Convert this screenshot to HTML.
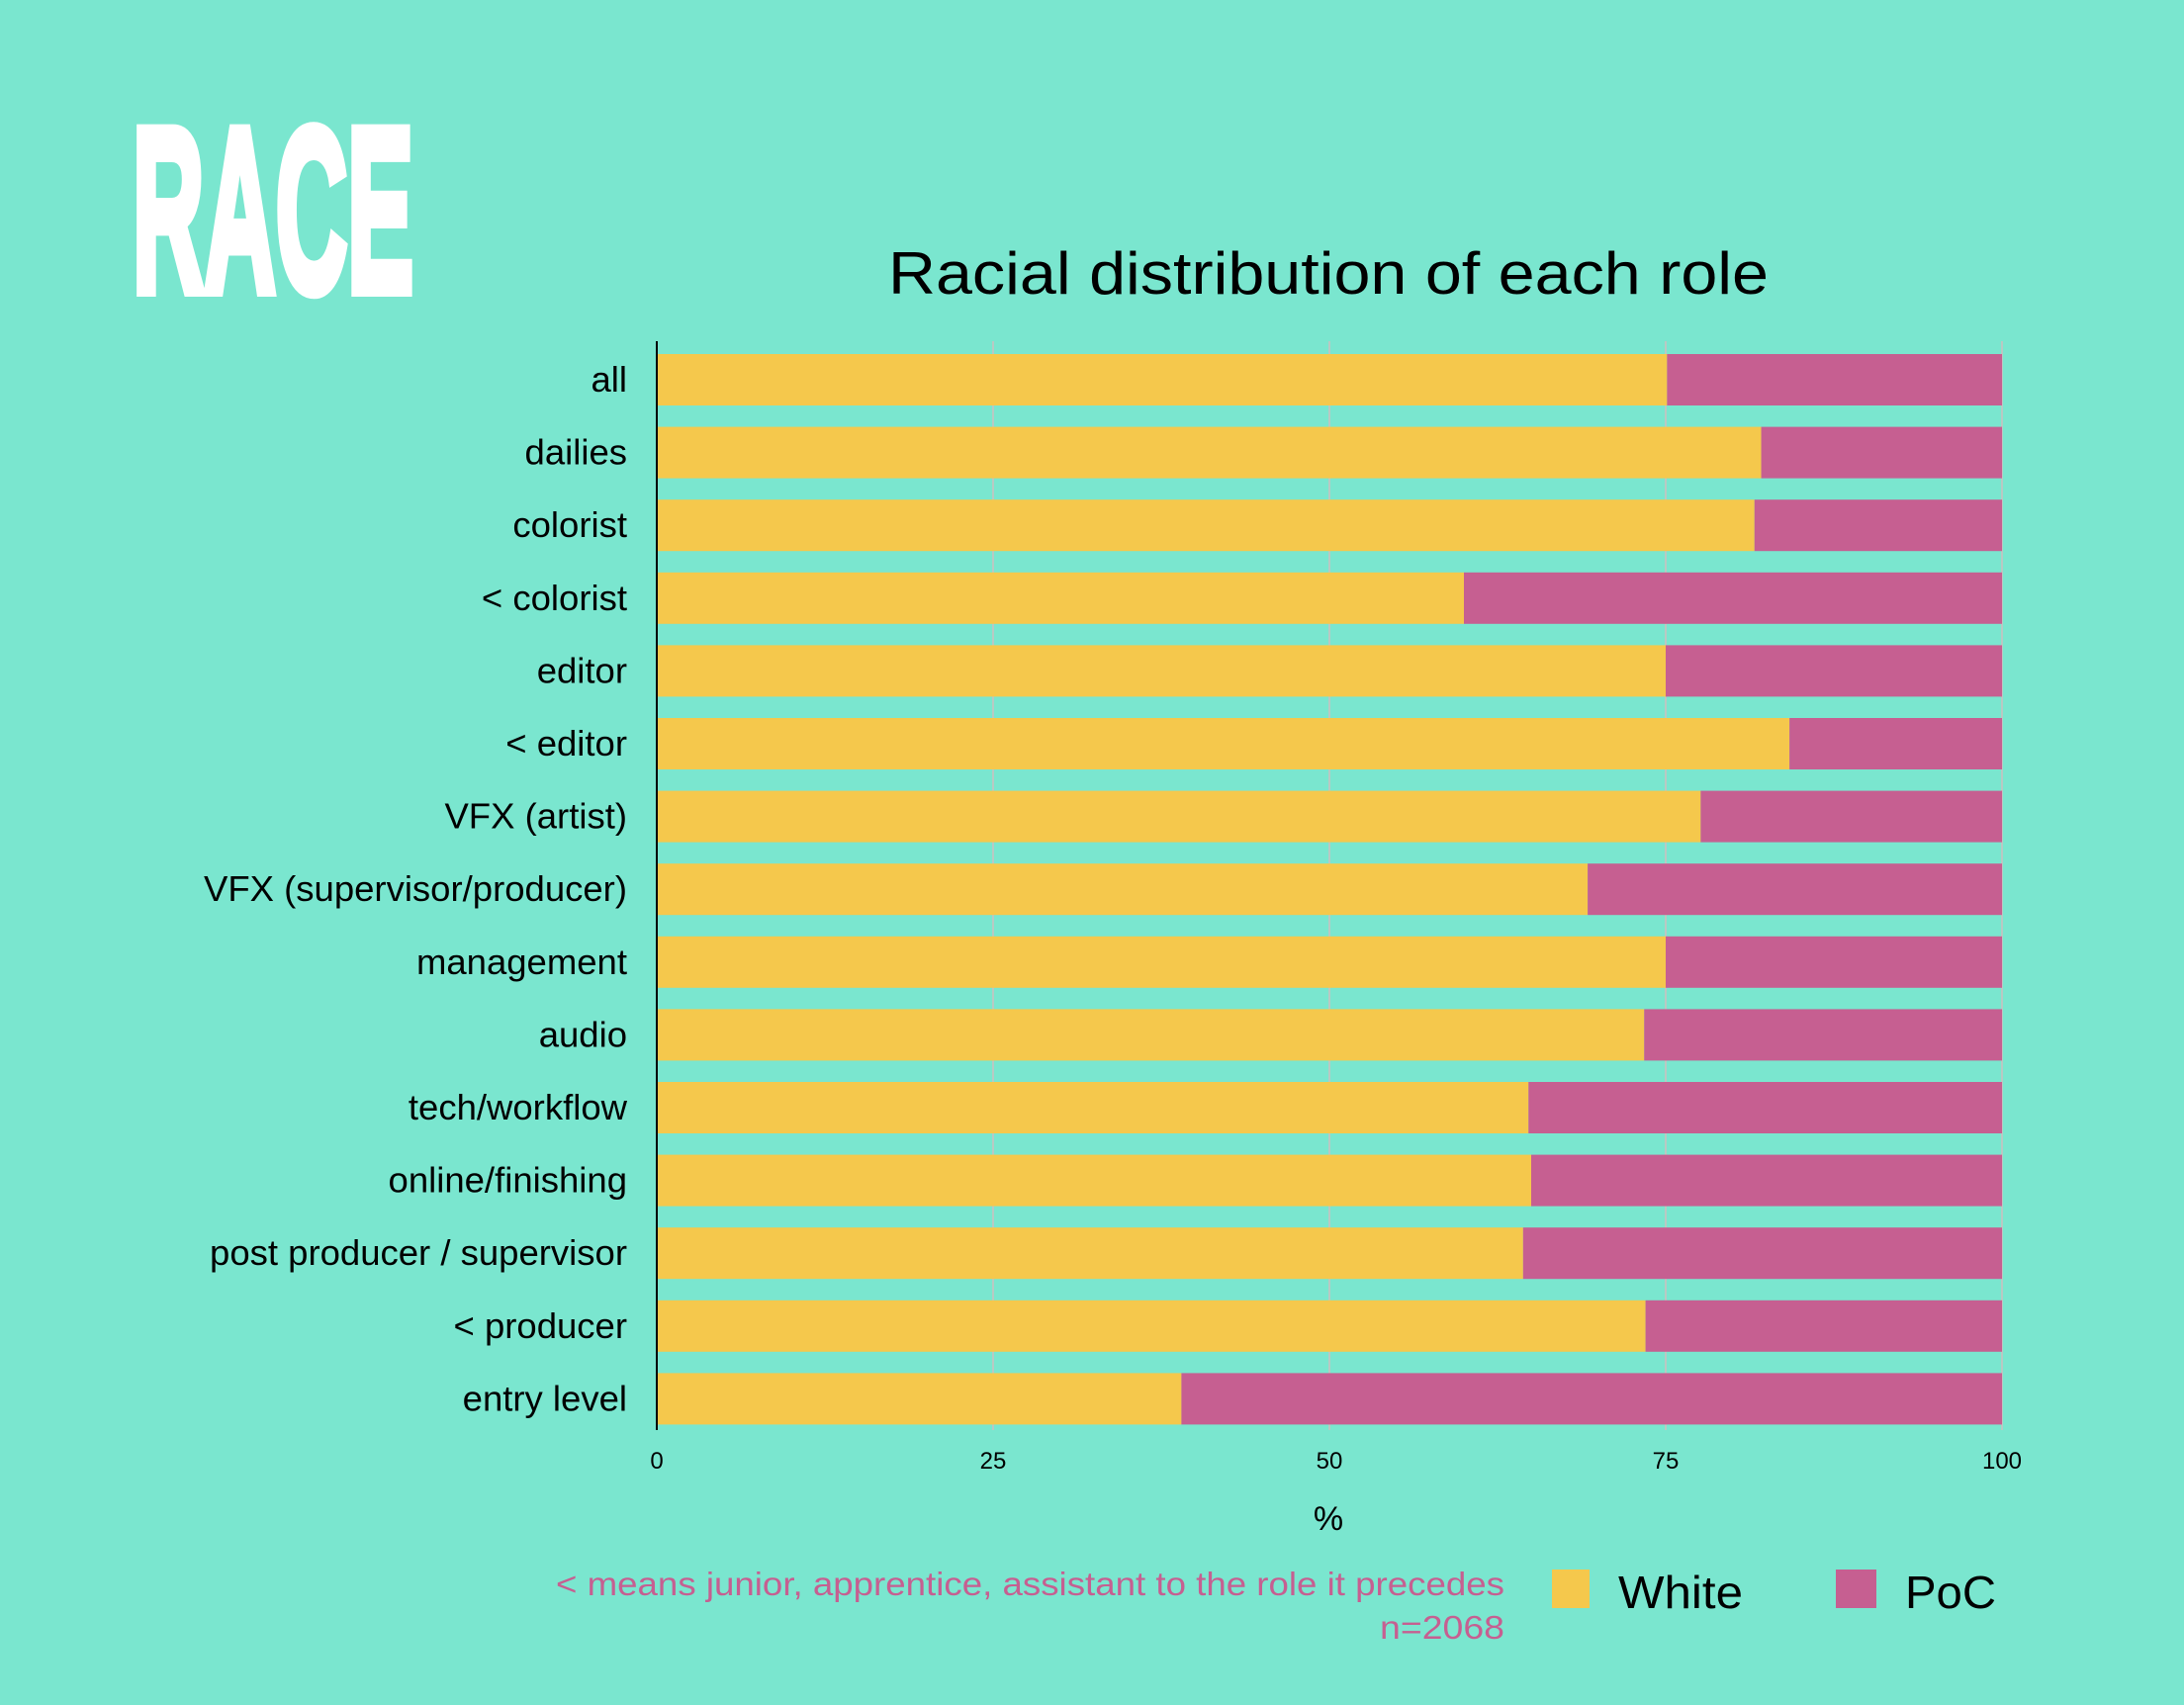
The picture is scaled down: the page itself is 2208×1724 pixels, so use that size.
<!DOCTYPE html>
<html><head><meta charset="utf-8"><style>
html,body{margin:0;padding:0;background:#7ae6cf;}
svg{display:block;font-family:"Liberation Sans",sans-serif;}
</style></head><body>
<svg id="chart" width="2208" height="1724" viewBox="0 0 2208 1724">
<rect width="2208" height="1724" fill="#7ae6cf"/>
<text x="134" y="294" font-size="236" font-weight="bold" fill="#ffffff" stroke="#ffffff" stroke-width="12" stroke-linejoin="miter" textLength="284" lengthAdjust="spacingAndGlyphs">RACE</text>
<text x="1343" y="297" font-size="60" text-anchor="middle" fill="#000" textLength="890" lengthAdjust="spacingAndGlyphs">Racial distribution of each role</text>
<g id="grid"></g><g id="bars"></g><g id="labels"></g><g id="ticks"></g>
<line x1="664" y1="345" x2="664" y2="1446" stroke="#000" stroke-width="2"/>
<text x="1343" y="1547" font-size="34" text-anchor="middle" fill="#000">%</text>
<text x="1521" y="1613" font-size="33" text-anchor="end" fill="#c65f91" textLength="959" lengthAdjust="spacingAndGlyphs">&lt; means junior, apprentice, assistant to the role it precedes</text>
<text x="1521" y="1657" font-size="33" text-anchor="end" fill="#c65f91" textLength="126" lengthAdjust="spacingAndGlyphs">n=2068</text>
<g>
<rect x="1569" y="1587" width="38" height="39" fill="#f5c84c"/>
<text x="1636" y="1626" font-size="46" fill="#000" textLength="126" lengthAdjust="spacingAndGlyphs">White</text></g>
<g>
<rect x="1856" y="1587" width="41" height="39" fill="#c65f91"/>
<text x="1926" y="1626" font-size="46" fill="#000" textLength="92" lengthAdjust="spacingAndGlyphs">PoC</text></g>
</svg>
<script>
const categories = ["all","dailies","colorist","< colorist","editor","< editor","VFX (artist)","VFX (supervisor/producer)","management","audio","tech/workflow","online/finishing","post producer / supervisor","< producer","entry level"];
const whiteValues = [75.1,82.1,81.6,60.0,75.0,84.2,77.6,69.2,75.0,73.4,64.8,65.0,64.4,73.5,39.0];
const tickValues = [0,25,50,75,100];
const tickLabels = ["0","25","50","75","100"];
const NS="http://www.w3.org/2000/svg";
const x0=664,x1=2024,top0=358,pitch=73.6,bh=52;
const xs=v=>x0+(x1-x0)*v/100;
const ys=i=>top0+i*pitch;
function mk(tag,attrs,parent){const e=document.createElementNS(NS,tag);for(const k in attrs)e.setAttribute(k,attrs[k]);document.getElementById(parent).appendChild(e);return e;}
tickValues.forEach((t,i)=>{
  if(t>0){const g=mk('line',{x1:xs(t),x2:xs(t),y1:345,y2:1446,stroke:'#b9c9c3','stroke-width':2},'grid');
  
  }
  const tl=mk('text',{x:xs(t),y:1485,'font-size':24,'text-anchor':'middle',fill:'#000'},'ticks');
  tl.textContent=tickLabels[i];
  
  
});
categories.forEach((c,i)=>{
  const w=whiteValues[i];
  const a=mk('rect',{x:xs(0),y:ys(i),width:xs(w)-xs(0),height:bh,fill:'#f5c84c'},'bars');
  
  
  const b=mk('rect',{x:xs(w),y:ys(i),width:xs(100)-xs(w),height:bh,fill:'#c65f91'},'bars');
  
  
  const l=mk('text',{x:634,y:ys(i)+bh/2+12,'font-size':36.5,'text-anchor':'end',fill:'#000'},'labels');
  l.textContent=c;
  
  
});
</script>
</body></html>
